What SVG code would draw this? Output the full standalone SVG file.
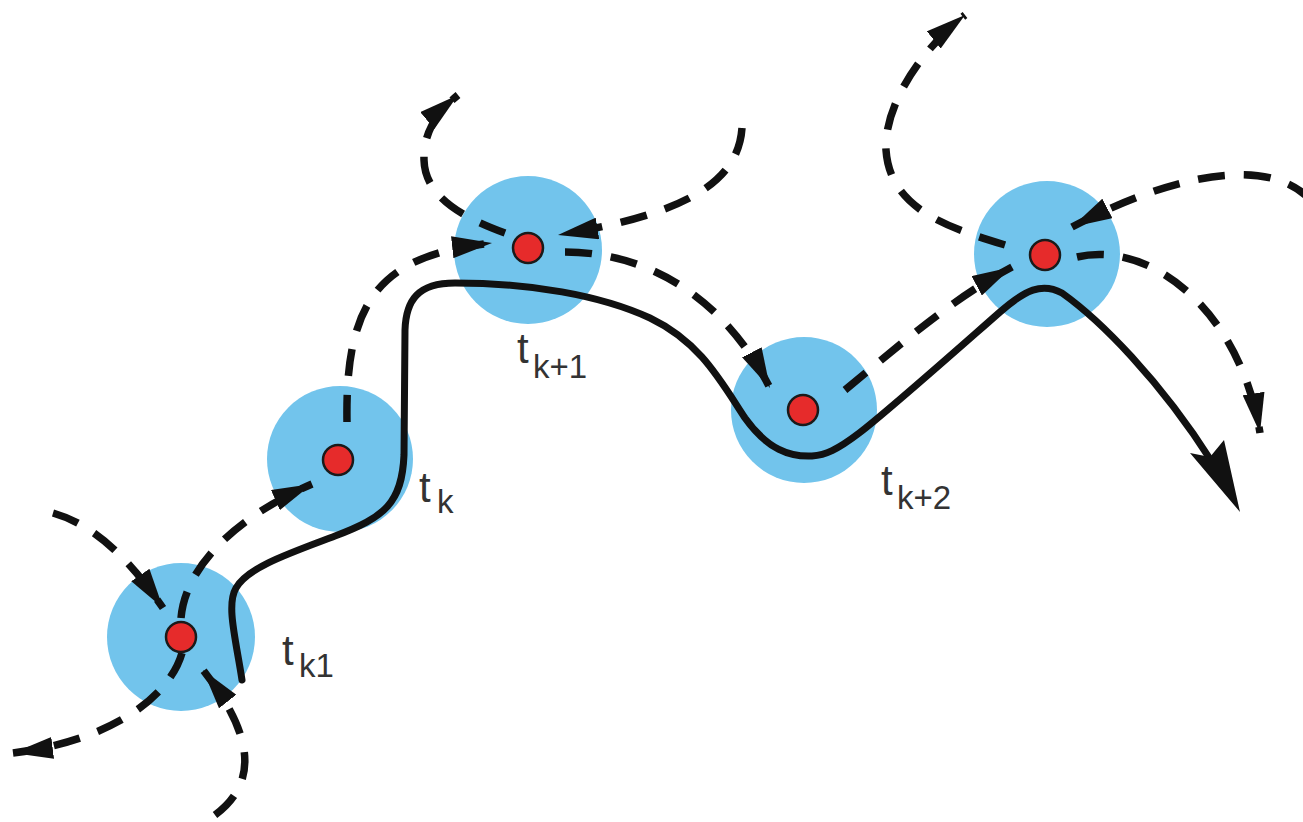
<svg xmlns="http://www.w3.org/2000/svg" width="1303" height="822" viewBox="0 0 1303 822">
  <style>
    .zone { fill: #72c4ec; }
    .state { fill: #e62b2b; stroke: #1a1a1a; stroke-width: 2.5; }
    .traj { fill: none; stroke: #111; stroke-width: 7; stroke-linecap: round; stroke-linejoin: round; }
    .alt { fill: none; stroke: #111; stroke-width: 7.5; stroke-dasharray: 27 19; stroke-linecap: butt; marker-end: url(#dashHead); }
    .lbl { font-family: "Liberation Sans", Arial, sans-serif; font-size: 42px; fill: #333; }
    .sub { font-size: 33px; }
  </style>
  <defs>
    <marker id="dashHead" markerUnits="userSpaceOnUse" viewBox="0 0 40 22" markerWidth="40" markerHeight="22" refX="40" refY="11" orient="auto">
      <path d="M0,0 L40,11 L0,22 Z" fill="#111"/>
    </marker>
  </defs>

  <rect width="1303" height="822" fill="#fff"/>

  <!-- tolerance zones around each sampled state -->
  <g id="node-tk1"><circle class="zone" cx="181" cy="637" r="74"/></g>
  <g id="node-tk"><circle class="zone" cx="340" cy="459" r="73"/></g>
  <g id="node-tk+1"><circle class="zone" cx="528" cy="250" r="74"/></g>
  <g id="node-tk+2"><circle class="zone" cx="804" cy="410" r="73"/></g>
  <g id="node-tk+3"><circle class="zone" cx="1047" cy="254" r="73"/></g>

  <!-- candidate (dashed) transitions -->
  <g id="connectors">
    <path class="alt" d="M53,513 C95,525 130,560 163,608"/>
    <path class="alt" d="M181,618 C185,570 230,520 312,484"/>
    <path class="alt" d="M182,653 C170,695 115,740 13,753"/>
    <path class="alt" d="M215,815 C262,780 250,730 203,670"/>
    <path class="alt" d="M347,422 C345,300 380,255 492,243"/>
    <path class="alt" d="M505,233 C470,220 425,200 424,160 C423,130 440,110 458,95"/>
    <path class="alt" d="M742,128 C738,185 680,215 558,235"/>
    <path class="alt" d="M565,252 C640,252 720,290 770,388"/>
    <path class="alt" d="M845,390 C900,345 950,300 1012,267"/>
    <path class="alt" d="M1005,245 C950,228 890,210 886,150 C884,110 915,55 965,15"/>
    <path class="alt" d="M1310,200 C1280,165 1200,160 1072,227"/>
    <path class="alt" d="M1077,257 C1150,240 1240,310 1260,433"/>

    <!-- chosen trajectory -->
    <path class="traj" d="M242,680 C236,640 226,605 236,588 C248,567 290,553 335,536 C385,517 402,503 404,455 L405,330 C406,300 418,283 455,283 C530,283 600,295 650,318 C700,342 720,380 745,418 C768,450 790,457 812,456 C840,454 860,435 1000,312 C1025,290 1042,282 1062,293 C1100,320 1160,380 1212,462"/>
    <polygon points="1240,512 1190,453 1210,457 1224,440" fill="#111"/>
  </g>

  <!-- state markers -->
  <g id="dots">
    <circle class="state" cx="181" cy="637" r="15"/>
    <circle class="state" cx="338" cy="460" r="15"/>
    <circle class="state" cx="528" cy="248" r="15"/>
    <circle class="state" cx="803" cy="410" r="15"/>
    <circle class="state" cx="1045" cy="255" r="15"/>
  </g>

  <!-- time labels -->
  <g id="labels">
    <text class="lbl" x="282" y="665">t<tspan class="sub" x="299" y="677">k1</tspan></text>
    <text class="lbl" x="419" y="502">t<tspan class="sub" x="437" y="513">k</tspan></text>
    <text class="lbl" x="517" y="363">t<tspan class="sub" x="533" y="378">k+1</tspan></text>
    <text class="lbl" x="881" y="495">t<tspan class="sub" x="897" y="509">k+2</tspan></text>
  </g>
</svg>
